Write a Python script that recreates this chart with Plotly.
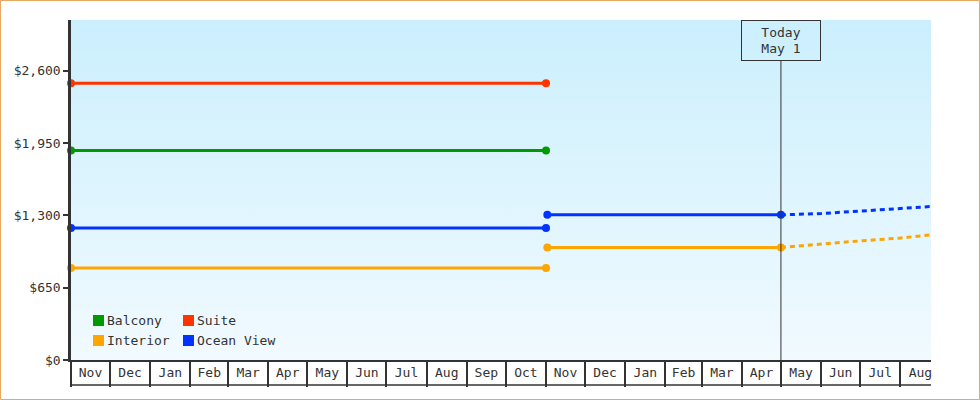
import base64
import plotly.graph_objects as go

# cabin price history, previous season (Nov 2023 - Oct 2024)
season1_dates = ["2023-11-01", "2024-11-01"]
suite_prices = [2487, 2487]
balcony_prices = [1882, 1882]
ocean1_prices = [1185, 1185]
interior1_prices = [826, 826]

# current season up to today
season2_dates = ["2024-11-02", "2025-05-01"]
ocean2_prices = [1304, 1304]
interior2_prices = [1011, 1011]

# projection after today
proj_dates = ["2025-05-01", "2025-06-01", "2025-07-01", "2025-08-01", "2025-08-26"]
ocean_proj = [1304, 1316, 1338, 1360, 1380]
interior_proj = [1011, 1044, 1070, 1096, 1126]

today = "2025-05-01"
today_label = "Today<br>May 1"
y_ticks = [0, 650, 1300, 1950, 2600]

legend_names = ["Balcony", "Suite", "Interior", "Ocean View"]
COLORS = {"Balcony": "#009900", "Suite": "#ff3300", "Interior": "#ffa500", "Ocean View": "#0033ff"}

FONT = "DejaVu Sans Mono, Liberation Mono, monospace"
INK = "#333333"

W, H = 980, 400
L, R, T, B = 71, 49, 20, 40
PW, PH = W - L - R, H - T - B


def px_x(x):
    return (x - L) / PW


def px_y(y):
    return (T + PH - y) / PH


fig = go.Figure()


def seg(x, y, name, dash=None, markers=True):
    fig.add_trace(go.Scatter(
        x=x, y=y, name=name, showlegend=False,
        mode="lines+markers" if markers else "lines",
        line=dict(color=COLORS[name], width=3, dash=dash),
        marker=dict(size=8, color=COLORS[name]),
        cliponaxis=False if markers else True,
    ))


seg(season1_dates, suite_prices, "Suite")
seg(season1_dates, balcony_prices, "Balcony")
seg(season1_dates, ocean1_prices, "Ocean View")
seg(season1_dates, interior1_prices, "Interior")
seg(proj_dates, ocean_proj, "Ocean View", dash="5px,4px", markers=False)
seg(proj_dates, interior_proj, "Interior", dash="5px,4px", markers=False)
seg(season2_dates, ocean2_prices, "Ocean View")
seg(season2_dates, interior2_prices, "Interior")

# gradient background for the plot area
svg = ('<svg xmlns="http://www.w3.org/2000/svg" width="100" height="100" viewBox="0 0 100 100" '
       'preserveAspectRatio="none"><defs><linearGradient id="g" x1="0" y1="0" x2="0" y2="1">'
       '<stop offset="0" stop-color="#cbeffd"/><stop offset="1" stop-color="#f1faff"/>'
       '</linearGradient></defs><rect width="100" height="100" fill="url(#g)"/></svg>')
bg = "data:image/svg+xml;base64," + base64.b64encode(svg.encode()).decode()

shapes = [
    # outer frame
    dict(type="rect", xref="paper", yref="paper",
         x0=px_x(0.5), x1=px_x(W - 0.5), y0=px_y(H - 0.5), y1=px_y(0.5),
         line=dict(color="#e8a860", width=1)),
    # bottom of the month cells
    dict(type="line", xref="paper", yref="paper", x0=px_x(70), x1=1,
         y0=px_y(385), y1=px_y(385), line=dict(color=INK, width=1.5)),
    # today marker line
    dict(type="line", xref="x", yref="paper", x0=today, x1=today,
         y0=0, y1=px_y(61), line=dict(color=INK, width=1)),
]

annotations = [
    dict(x=today, xref="x", y=1, yref="paper", yanchor="top", text=today_label,
         showarrow=False, width=76, height=37, borderpad=1, borderwidth=1,
         bordercolor=INK, font=dict(family=FONT, size=13, color=INK), align="center"),
]

# hand-drawn legend (2 x 2 grid)
legend_cols = [93, 183]
legend_rows = [320.5, 340.5]
for i, name in enumerate(legend_names):
    x0 = legend_cols[i % 2]
    yc = legend_rows[i // 2]
    shapes.append(dict(type="rect", xref="paper", yref="paper",
                       x0=px_x(x0), x1=px_x(x0 + 11), y0=px_y(yc + 5.5), y1=px_y(yc - 5.5),
                       fillcolor=COLORS[name], line=dict(width=0)))
    annotations.append(dict(x=px_x(x0 + 12), y=px_y(yc), xref="paper", yref="paper",
                            xanchor="left", yanchor="middle", text=name, showarrow=False,
                            font=dict(family=FONT, size=13, color=INK)))

fig.update_layout(
    width=W, height=H,
    margin=dict(l=L, r=R, t=T, b=B),
    paper_bgcolor="white",
    plot_bgcolor="rgba(0,0,0,0)",
    font=dict(family=FONT, size=13, color=INK),
    showlegend=False,
    shapes=shapes,
    annotations=annotations,
    images=[dict(source=bg, xref="paper", yref="paper", x=0, y=1, sizex=1, sizey=1,
                 xanchor="left", yanchor="top", sizing="stretch", layer="below")],
)

fig.update_xaxes(
    type="date", range=["2023-11-01", "2025-08-24 15:00"],
    tick0="2023-11-01", dtick="M1", tickformat="%b", ticklabelmode="period",
    ticks="outside", ticklen=25, tickwidth=1.5, tickcolor=INK,
    ticklabelstandoff=-25,
    showline=True, linecolor=INK, linewidth=1.5,
    showgrid=False, zeroline=False,
    tickfont=dict(family=FONT, size=13, color=INK),
)
fig.update_yaxes(
    range=[0, 3055], tickvals=y_ticks, ticktext=[f"${v:,}" for v in y_ticks],
    ticks="outside", ticklen=5, tickwidth=2, tickcolor=INK,
    showline=True, linecolor=INK, linewidth=2.5,
    showgrid=False, zeroline=False,
    tickfont=dict(family=FONT, size=13, color=INK),
)

fig.write_html("out.html", config={"displayModeBar": False},
               post_script="document.body.style.margin='0';")
